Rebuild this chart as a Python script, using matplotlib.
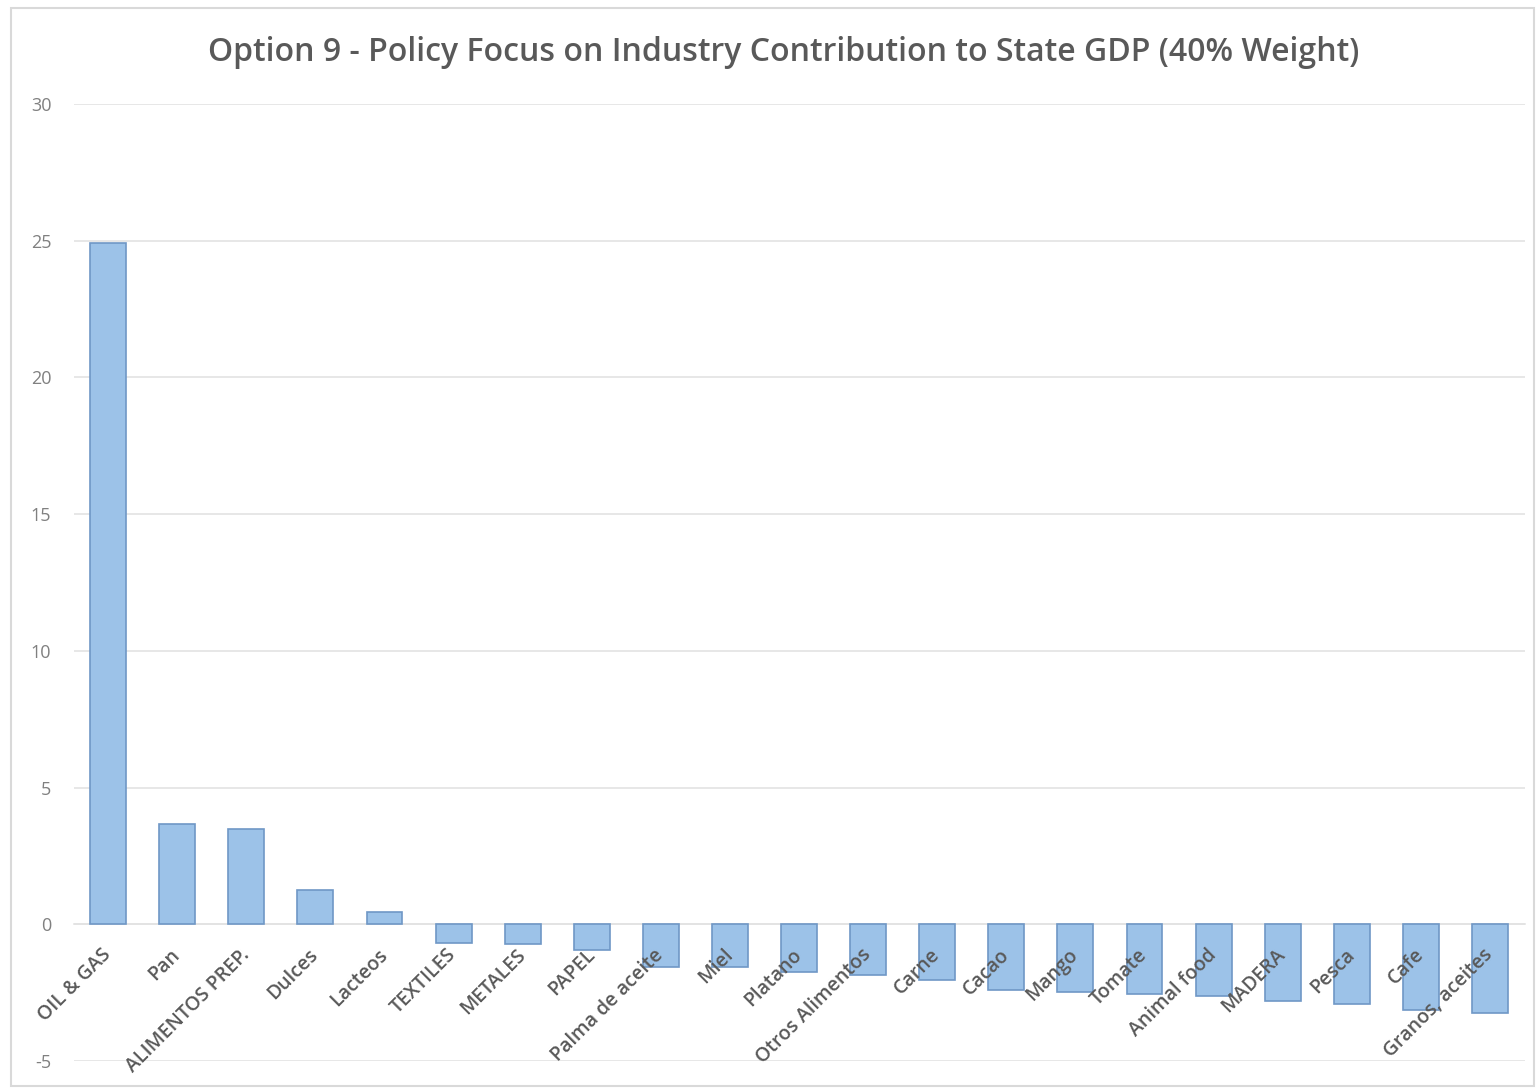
import matplotlib.pyplot as plt
import numpy as np
from matplotlib.patches import Rectangle

categories = ['OIL & GAS', 'Pan', 'ALIMENTOS PREP.', 'Dulces', 'Lacteos',
              'TEXTILES', 'METALES', 'PAPEL', 'Palma de aceite', 'Miel',
              'Platano', 'Otros Alimentos', 'Carne', 'Cacao', 'Mango',
              'Tomate', 'Animal food', 'MADERA', 'Pesca', 'Cafe',
              'Granos, aceites']
values = [24.9, 3.66, 3.47, 1.24, 0.44,
          -0.69, -0.72, -0.95, -1.57, -1.57,
          -1.75, -1.86, -2.05, -2.41, -2.49,
          -2.56, -2.63, -2.82, -2.92, -3.14,
          -3.25]
yticks = [-5, 0, 5, 10, 15, 20, 25, 30]

title = 'Option 9 - Policy Focus on Industry Contribution to State GDP (40% Weight)'
text_grey = '#595959'

plt.rcParams['font.family'] = ['Open Sans', 'DejaVu Sans']
plt.rcParams['axes.unicode_minus'] = False

fig = plt.figure(figsize=(15.39, 10.89), dpi=100)
fig.patches.append(Rectangle((0.007, 0.003), 0.99, 0.99, transform=fig.transFigure,
                             fill=False, edgecolor='#d9d9d9', lw=1.5))
ax = fig.add_axes([0.0478, 0.0257, 0.9428, 0.8788])

x = np.arange(len(categories))
ax.bar(x, values, width=0.52, color='#9cc2e8', edgecolor='#6f97c6', linewidth=1.2, zorder=3)

ax.set_xlim(-0.5, len(categories) - 0.5)
ax.set_ylim(-5, 30)
ax.set_yticks(yticks)
ax.yaxis.grid(True, color='#e3e3e3', linewidth=1.2, zorder=0)
ax.tick_params(axis='y', length=0, pad=16, labelsize=13, labelcolor='#808080')

for s in ['top', 'right', 'left']:
    ax.spines[s].set_visible(False)
ax.spines['bottom'].set_position(('data', 0))
ax.spines['bottom'].set_color('#e3e3e3')
ax.spines['bottom'].set_linewidth(1.2)
ax.spines['bottom'].set_zorder(1)

ax.set_xticks(x)
ax.set_xticklabels(categories, rotation=45, ha='right', va='center',
                   rotation_mode='anchor', fontsize=14, color=text_grey,
                   fontweight='semibold')
ax.tick_params(axis='x', length=0, pad=20)
ax.xaxis.set_zorder(5)

fig.text(0.509, 0.952, title, ha='center', va='center', fontsize=23,
         color=text_grey, fontweight='semibold')

fig.savefig('out.png', dpi=100)
